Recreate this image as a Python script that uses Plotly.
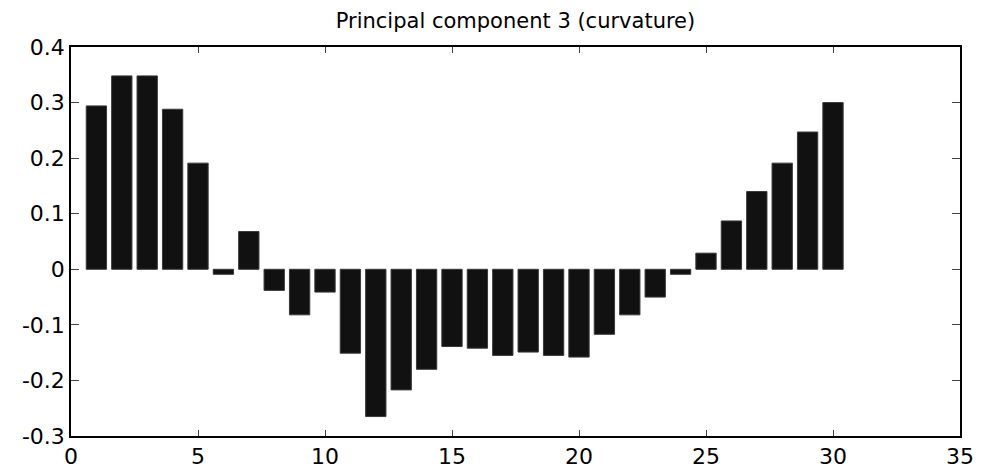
import plotly.graph_objects as go

# Loadings of the third principal component across 30 maturities
maturity = list(range(1, 31))
loading = [0.294, 0.348, 0.348, 0.288, 0.191, -0.009, 0.068, -0.038, -0.082, -0.041,
           -0.151, -0.265, -0.217, -0.180, -0.139, -0.142, -0.155, -0.149, -0.155, -0.158,
           -0.117, -0.082, -0.050, -0.009, 0.029, 0.087, 0.140, 0.191, 0.247, 0.300]

x_ticks = [0, 5, 10, 15, 20, 25, 30, 35]
y_ticks = [-0.3, -0.2, -0.1, 0, 0.1, 0.2, 0.3, 0.4]
y_tick_text = ["-0.3", "-0.2", "-0.1", "0", "0.1", "0.2", "0.3", "0.4"]

FONT = "DejaVu Sans, Liberation Sans, Arial, sans-serif"

fig = go.Figure(
    go.Bar(
        x=maturity,
        y=loading,
        width=0.8,
        marker=dict(color="#111111", line=dict(color="#3a3a3a", width=1)),
        hoverinfo="x+y",
    )
)

fig.update_layout(
    width=981,
    height=470,
    margin=dict(l=71, r=21, t=47, b=34, autoexpand=False),
    paper_bgcolor="white",
    plot_bgcolor="white",
    showlegend=False,
    title=dict(
        text="Principal component 3 (curvature)",
        x=0.5 * (71 + 960) / 981,
        xanchor="center",
        y=1 - 21 / 470,
        yanchor="middle",
        font=dict(family=FONT, size=21, color="black"),
    ),
    font=dict(family=FONT, color="black"),
)

fig.update_xaxes(
    range=[0, 35],
    tickvals=x_ticks,
    ticks="inside",
    ticklen=6,
    tickcolor="#444444",
    tickwidth=1,
    showline=True,
    linecolor="black",
    linewidth=1.5,
    mirror="ticks",
    showgrid=False,
    zeroline=False,
    automargin=False,
    tickfont=dict(family=FONT, size=22, color="black"),
)

fig.update_yaxes(
    range=[-0.3, 0.4],
    tickvals=y_ticks,
    ticktext=y_tick_text,
    ticks="inside",
    ticklen=8,
    tickcolor="#444444",
    tickwidth=1,
    showline=True,
    linecolor="black",
    linewidth=1.5,
    mirror="ticks",
    showgrid=False,
    zeroline=False,
    automargin=False,
    tickfont=dict(family=FONT, size=22, color="black"),
)

fig.write_html("out.html")
